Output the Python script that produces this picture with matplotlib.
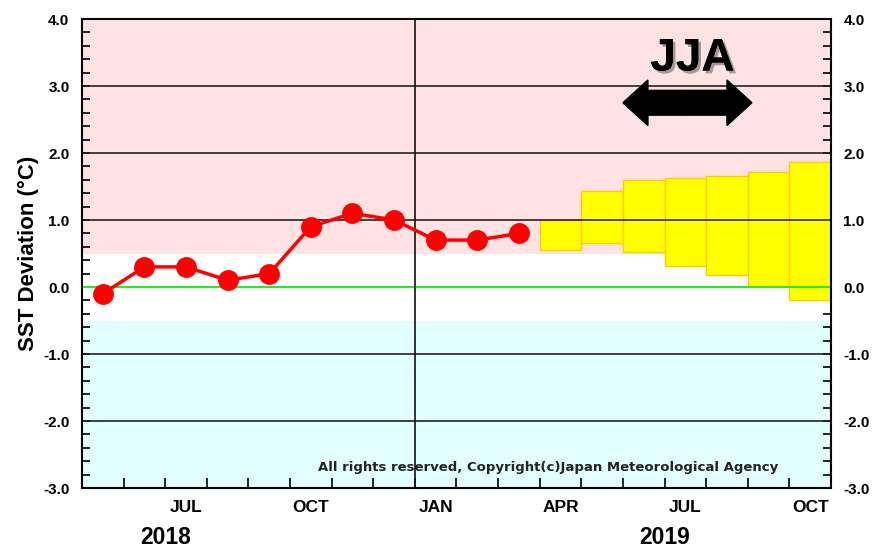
import matplotlib.pyplot as plt
import matplotlib.patheffects as pe
from matplotlib.patches import FancyArrow
import numpy as np

plt.rcParams['font.family'] = ['Liberation Sans', 'DejaVu Sans']

# months on the x axis, May 2018 .. Oct 2019
months = ['2018-05', '2018-06', '2018-07', '2018-08', '2018-09', '2018-10',
          '2018-11', '2018-12', '2019-01', '2019-02', '2019-03', '2019-04',
          '2019-05', '2019-06', '2019-07', '2019-08', '2019-09', '2019-10']

# observed SST deviation (red line)
obs_months = months[:11]
obs_values = [-0.1, 0.3, 0.3, 0.1, 0.2, 0.9, 1.1, 1.0, 0.7, 0.7, 0.8]

# forecast range (yellow boxes)
fc_months = ['2019-04', '2019-05', '2019-06', '2019-07', '2019-08', '2019-09', '2019-10']
fc_low = [0.55, 0.65, 0.52, 0.31, 0.18, 0.01, -0.19]
fc_high = [1.0, 1.44, 1.60, 1.63, 1.66, 1.71, 1.86]

month_ticks = ['2018-07', '2018-10', '2019-01', '2019-04', '2019-07', '2019-10']
month_labels = ['JUL', 'OCT', 'JAN', 'APR', 'JUL', 'OCT']
year_labels = ['2018', '2019']
year_at = ['2018-07', '2019-07']
season_label = 'JJA'
season_span = ['2019-06', '2019-08']


def pos(m):
    return months.index(m)


fig = plt.figure(figsize=(8.75, 5.47), dpi=100)
ax = fig.add_axes([82 / 875, 59 / 547, 749 / 875, 469 / 547])
ax.set_xlim(0, len(months))
ax.set_ylim(-3, 4)

# background bands
ax.axhspan(0.5, 4, color='#ffe2e4', zorder=0, lw=0)
ax.axhspan(-3, -0.5, color='#e2feff', zorder=0, lw=0)

# forecast boxes
xs = np.array([pos(m) for m in fc_months])
ax.bar(xs, np.array(fc_high) - np.array(fc_low), bottom=fc_low, width=1.0,
       align='edge', color='#ffff00', edgecolor='#ffcc00', lw=1.0, zorder=2)

# grid lines
for y in [-2, -1, 1, 2, 3]:
    ax.axhline(y, color='#222222', lw=1.2, zorder=3)
ax.axhline(0, color='#22ee22', lw=1.5, zorder=3)
ax.axvline(pos('2019-01'), color='#111111', lw=1.2, zorder=3)

# observed line
ox = [pos(m) + 0.5 for m in obs_months]
ax.plot(ox, obs_values, color='#ff0000', lw=2.5, marker='o', ms=14,
        mec='#ff0000', mfc='#ff0000', zorder=4)

# ticks
ax.set_xticks(np.arange(0, len(months) + 1))
ax.set_xticklabels([])
ax.set_xticks([pos(m) + 0.5 for m in month_ticks], minor=True)
ax.set_xticklabels(month_labels, minor=True, fontsize=12.5, fontweight='bold')
ax.tick_params(axis='x', which='major', direction='in', length=7, width=1.2, top=False)
ax.tick_params(axis='x', which='minor', length=0, pad=9)

ax.set_yticks(np.arange(-3, 5, 1))
ax.set_yticklabels(['%.1f' % v for v in np.arange(-3, 5, 1)],
                   fontsize=11, fontweight='bold')
ax.set_yticks(np.arange(-3, 4.01, 0.2), minor=True)
ax.tick_params(axis='y', which='both', direction='in', left=True, right=True,
               labelleft=True, labelright=True, length=6, width=1.2, pad=9)

for s in ax.spines.values():
    s.set_linewidth(1.5)
    s.set_zorder(5)

ax.set_ylabel('SST Deviation (°C)', fontsize=16, fontweight='bold', labelpad=3)

for lab, m in zip(year_labels, year_at):
    ax.text(pos(m), -0.1045, lab, transform=ax.get_xaxis_transform(),
            ha='center', va='center', fontsize=16.5, fontweight='bold')

ax.text(0.93, 0.043, 'All rights reserved, Copyright(c)Japan Meteorological Agency',
        transform=ax.transAxes, ha='right', va='center', fontsize=9.5,
        fontweight='bold', family='DejaVu Sans', color='#222222', zorder=6)

# JJA label with double arrow
x0 = pos(season_span[0])
x1 = pos(season_span[1]) + 1.1
xc = (x0 + x1) / 2
ya = 2.75
for end in (x0, x1):
    ax.add_patch(FancyArrow(xc, ya, end - xc, 0, width=0.37, head_width=0.68,
                            head_length=0.6, length_includes_head=True,
                            color='black', zorder=6))
ax.text(xc + 0.12, 3.41, season_label, ha='center', va='center', fontsize=33,
        fontweight='bold', zorder=6,
        path_effects=[pe.withSimplePatchShadow(offset=(2, -2), shadow_rgbFace='#666666', alpha=0.6),
                      pe.Normal()])

fig.savefig('out.png', dpi=100)
